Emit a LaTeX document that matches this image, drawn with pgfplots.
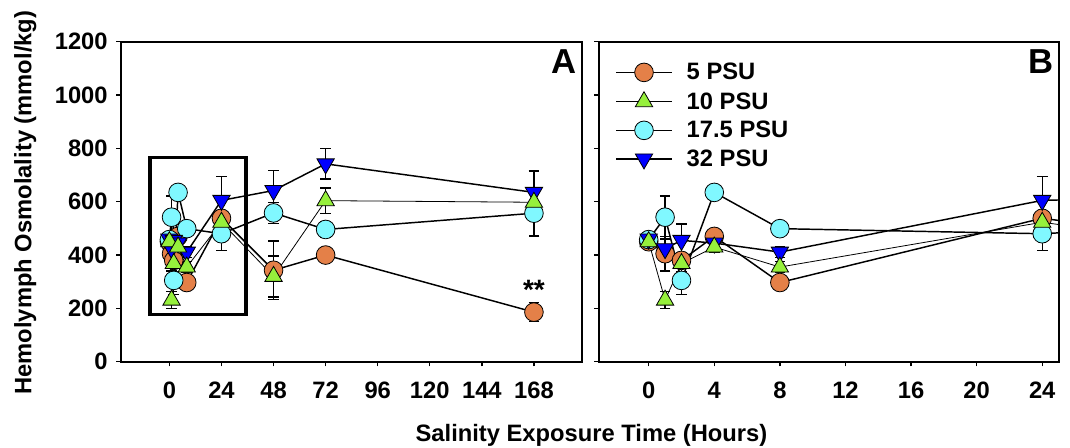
\documentclass[border=0pt]{standalone}
\usepackage{fontspec}
\setmainfont{Liberation Sans}
\usepackage{pgfplots}
\usepackage{pgfplotstable}
\pgfplotsset{compat=1.18}

\definecolor{c5}{RGB}{228,128,72}
\definecolor{c10}{RGB}{150,240,60}
\definecolor{c17}{RGB}{128,248,255}
\definecolor{c32}{RGB}{0,0,255}

\newcommand{\fs}{\fontsize{17.8}{21}\selectfont\bfseries}

\pgfplotstableread{
t y e
0 450 20
1 405 65
2 380 25
4 470 15
8 297 25
24 538 25
48 343 110
72 400 25
168 186 35
}\dataA
\pgfplotstableread{
t y e
0 450 15
1 231 32
2 368 30
4 430 20
8 355 20
24 523 30
48 320 77
72 604 48
168 598 30
}\dataB
\pgfplotstableread{
t y e
0 458 15
1 542 80
2 305 53
4 635 20
8 499 20
24 480 62
48 558 40
72 496 30
168 557 85
}\dataC
\pgfplotstableread{
t y e
0 460 15
1 424 35
2 455 62
4 445 15
8 411 20
24 605 90
48 642 75
72 742 57
168 635 80
}\dataD

\pgfplotsset{
  myaxis/.style={
    scale only axis,
    width=345.5pt, height=240pt,
    ymin=0, ymax=1200,
    ytick={0,200,...,1200},
    axis line style={line width=1.4pt},
    every tick/.style={line width=1pt, black},
    tick align=outside,
    major tick length=3.5pt,
    xtick pos=bottom, ytick pos=left,
    ticklabel style={font=\fs},
    /pgf/number format/assume math mode=true,
    /pgf/number format/1000 sep={},
    xticklabel style={yshift=-8pt},
    yticklabel style={xshift=-3pt},
    error bars/y dir=both,
    error bars/y explicit,
    error bars/error bar style={line width=1pt, black},
    error bars/error mark options={rotate=90, mark size=4pt, line width=1pt, black},
  },
  s5/.style={black, line width=1.1pt, mark=*, mark size=7pt,
    mark options={fill=c5, draw=black, line width=0.6pt}},
  s10/.style={black, line width=0.6pt, mark=triangle*, mark size=7.5pt,
    mark options={fill=c10, draw=black, line width=0.6pt}},
  s17/.style={black, line width=1.1pt, mark=*, mark size=7pt,
    mark options={fill=c17, draw=black, line width=0.6pt}},
  s32/.style={black, line width=1.1pt, mark=triangle*, mark size=7.5pt,
    mark options={fill=c32, draw=black, line width=0.6pt, rotate=180}},
}

\begin{document}
\begin{tikzpicture}
\useasboundingbox (0,0) rectangle (802.5pt,336pt);

\begin{axis}[myaxis, at={(90.75pt,64.7pt)}, anchor=south west,
  xmin=-22.3, xmax=190,
  xtick={0,24,...,168}]
\addplot[s5] table[x=t, y=y, y error=e] {\dataA};
\addplot[s17] table[x=t, y=y, y error=e] {\dataC};
\addplot[s32] table[x=t, y=y, y error=e] {\dataD};
\addplot[s10] table[x=t, y=y, y error=e] {\dataB};
\draw[line width=2.5pt] (axis cs:-9,178) rectangle (axis cs:35.3,766);
\node[font=\fontsize{21}{24}\selectfont\bfseries] at (axis cs:168,268) {**};
\node[font=\fontsize{26}{30}\selectfont\bfseries, anchor=north east, inner sep=0pt]
  at ([xshift=-4pt,yshift=-6pt]rel axis cs:1,1) {A};
\end{axis}

\begin{axis}[myaxis, at={(449.25pt,64.7pt)}, anchor=south west,
  width=345.2pt,
  xmin=-3.03, xmax=25.04,
  xtick={0,4,...,24},
  yticklabels={},
  legend style={draw=none, fill=none, at={(rel axis cs:0,1)}, anchor=north west,
    xshift=12pt, yshift=-15.8pt, inner sep=0pt, row sep=7.5pt, column sep=10.5pt,
    nodes={inner sep=0pt}, font=\fs},
  legend cell align=left,
  legend image code/.code={\draw[mark repeat=2, mark phase=2, #1]
    plot coordinates {(0pt,0pt) (21pt,0pt) (42pt,0pt)};}]
\addlegendimage{s5}
\addlegendentry{5 PSU}
\addlegendimage{s10}
\addlegendentry{10 PSU}
\addlegendimage{s17}
\addlegendentry{17.5 PSU}
\addlegendimage{s32}
\addlegendentry{32 PSU}
\addplot[s5, forget plot] table[x=t, y=y, y error=e] {\dataA};
\addplot[s17, forget plot] table[x=t, y=y, y error=e] {\dataC};
\addplot[s32, forget plot] table[x=t, y=y, y error=e] {\dataD};
\addplot[s10, forget plot] table[x=t, y=y, y error=e] {\dataB};
\node[font=\fontsize{26}{30}\selectfont\bfseries, anchor=north east, inner sep=0pt]
  at ([xshift=-4pt,yshift=-6pt]rel axis cs:1,1) {B};
\end{axis}

\node[font=\fs, anchor=base] at (443.6pt,5pt) {Salinity Exposure Time (Hours)};
\node[font=\fs, anchor=base, rotate=90] at (23.5pt,184pt) {Hemolymph Osmolality (mmol/kg)};
\end{tikzpicture}
\end{document}
